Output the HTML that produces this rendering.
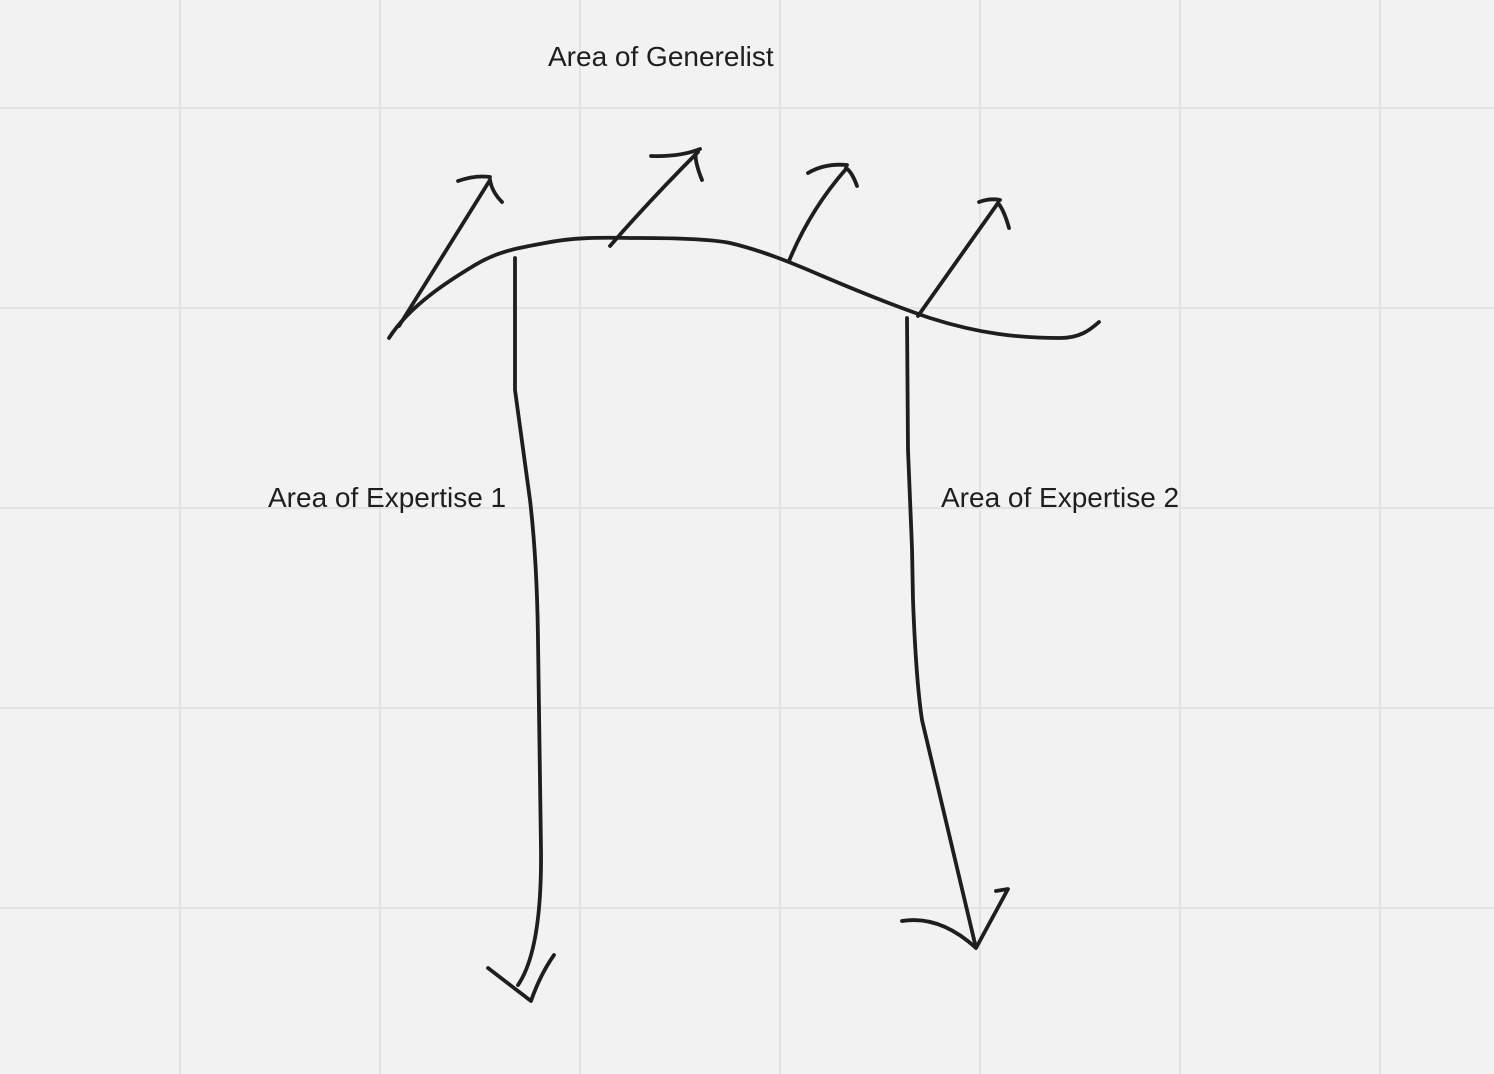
<!DOCTYPE html>
<html><head><meta charset="utf-8"><style>
html,body{margin:0;padding:0;background:#f2f2f2;}
svg{display:block}
text{font-family:"Liberation Sans",Arial,sans-serif;font-size:28px;fill:#1e1e1e}
</style></head><body>
<svg width="1494" height="1074" viewBox="0 0 1494 1074">
<rect width="1494" height="1074" fill="#f2f2f2"/>
<g stroke="#e3e3e3" stroke-width="2">
<line x1="180" y1="0" x2="180" y2="1074"/><line x1="380" y1="0" x2="380" y2="1074"/>
<line x1="580" y1="0" x2="580" y2="1074"/><line x1="780" y1="0" x2="780" y2="1074"/>
<line x1="980" y1="0" x2="980" y2="1074"/><line x1="1180" y1="0" x2="1180" y2="1074"/>
<line x1="1380" y1="0" x2="1380" y2="1074"/>
<line x1="0" y1="108" x2="1494" y2="108"/><line x1="0" y1="308" x2="1494" y2="308"/>
<line x1="0" y1="508" x2="1494" y2="508"/><line x1="0" y1="708" x2="1494" y2="708"/>
<line x1="0" y1="908" x2="1494" y2="908"/>
</g>
<text x="548" y="66">Area of Generelist</text>
<text x="268" y="507">Area of Expertise 1</text>
<text x="941" y="507">Area of Expertise 2</text>
<g fill="none" stroke="#1e1e1e" stroke-width="3.8" stroke-linecap="round" stroke-linejoin="round">
<path d="M389,338 C410,305 450,280 475,265 C500,250 520,248 545,243 C580,236 610,238 640,238 C690,238 715,240 730,243 C760,250 790,262 820,275 C860,292 900,308 930,318 C980,334 1020,338 1060,338 C1080,338 1090,330 1099,322"/>
<path d="M399,326 L490,180 M458,181 Q475,175 490,177 M490,180 Q492,192 502,202"/>
<path d="M610,246 Q650,200 698,152 M651,156 Q680,157 700,149 M696,152 Q694,160 702,180"/>
<path d="M789,261 Q810,210 846,169 M808,173 Q825,163 847,165 M846,168 Q852,172 857,186"/>
<path d="M918,316 L998,203 M979,202 Q990,198 1000,200 M998,203 Q1004,210 1009,228"/>
<path d="M515,258 L515,390 L530,500 Q537,560 538,640 L541,850 Q542,950 518,985 M488,968 L531,1001 Q540,975 554,955"/>
<path d="M907,318 L908,450 L912,548 L913,600 Q916,680 922,720 L976,948 M902,921 Q940,915 976,948 L1008,889 L996,891"/>
</g>
</svg>
</body></html>
